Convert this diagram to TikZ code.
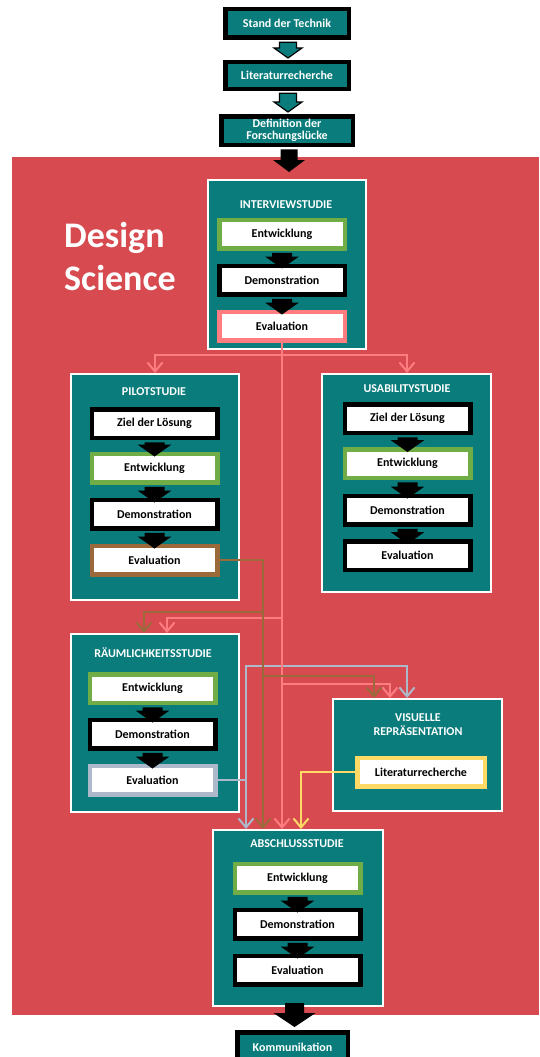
\documentclass[tikz,border=0pt]{standalone}
\usepackage{fontspec}
\setmainfont{Carlito}
\usetikzlibrary{calc,arrows.meta}

\definecolor{bgred}{HTML}{D64A50}
\definecolor{teal2}{HTML}{097C7B}
\definecolor{ggreen}{HTML}{70AD47}
\definecolor{pinkl}{HTML}{FF7C80}
\definecolor{brownl}{HTML}{9C6A3A}
\definecolor{grayl}{HTML}{ADB9CA}
\definecolor{yell}{HTML}{FFD966}

\tikzset{
  lab/.style={font=\fontsize{12}{12.5}\selectfont\bfseries},
  topbox/.style={lab, draw=black, line width=4.5pt, fill=teal2, text=white,
    inner sep=0pt, align=center},
  study/.style={draw=white, line width=2pt, fill=teal2, inner sep=0pt},
  title/.style={lab, text=white, align=center, inner sep=0pt},
  phase/.style={lab, draw=black, line width=4.5pt, fill=white,
    minimum width=125.5pt, minimum height=28.5pt, inner sep=0pt},
  flow/.style={line width=2pt, -{Straight Barb[length=9pt,width=15pt]}},
  % block arrow: half shaft width, half head width, head length
  blk/.style n args={3}{to path={let \p1=(\tikztostart), \p2=(\tikztotarget) in
    (\x1-#1,\y1) -- (\x1+#1,\y1) -- (\x1+#1,\y2+#3) -- (\x1+#2,\y2+#3)
    -- (\x1,\y2) -- (\x1-#2,\y2+#3) -- (\x1-#1,\y2+#3) -- cycle}},
  inarrow/.style={blk={10pt}{17pt}{12pt}, fill=black},
}

\begin{document}
\begin{tikzpicture}[x=1pt,y=-1pt]
\useasboundingbox (0,0) rectangle (539,1057);
\clip (0,0) rectangle (539,1057);

% background
\fill[bgred] (12,157) rectangle (539,1015);
\node[font=\fontsize{36}{43}\selectfont\bfseries, text=white, anchor=base west, inner sep=0pt] (dsa) at (64,247) {Design};
\node[font=\fontsize{36}{43}\selectfont\bfseries, text=white, anchor=base west, inner sep=0pt] (dsb) at (64,290) {Science};

% preliminary steps
\node[topbox, minimum width=123.5pt, minimum height=28.5pt] (st) at (287,23.5) {Stand der Technik};
\node[topbox, minimum width=123.5pt, minimum height=26.5pt] (lt) at (287,75.5) {Literaturrecherche};
\node[topbox, minimum width=131.5pt, minimum height=28.5pt] (df) at (287,130.5) {Definition der\\Forschungslücke};

% study frames
\node[study, minimum width=158pt, minimum height=169pt] (is) at (287,264.5) {};
\node[study, minimum width=168pt, minimum height=226pt] (ps) at (155,487) {};
\node[study, minimum width=169pt, minimum height=218pt] (us) at (406,483) {};
\node[study, minimum width=168pt, minimum height=178pt] (rs) at (155,723) {};
\node[study, minimum width=169pt, minimum height=112pt] (vr) at (417.5,755) {};
\node[study, minimum width=170pt, minimum height=176pt] (ab) at (298,918) {};
\node[topbox, minimum width=110.5pt, minimum height=29.5pt] (km) at (292.5,1047) {Kommunikation};

% titles
\node[title] (ist) at (286,205) {INTERVIEWSTUDIE};
\node[title] (pst) at (154,392) {PILOTSTUDIE};
\node[title] (ust) at (407,389) {USABILITYSTUDIE};
\node[title] (rst) at (153,653) {RÄUMLICHKEITSSTUDIE};
\node[title, font=\fontsize{12}{14.5}\selectfont\bfseries] (vrt) at (418,724.5) {VISUELLE\\REPRÄSENTATION};
\node[title] (abt) at (297,844) {ABSCHLUSSSTUDIE};

% Interviewstudie
\node[phase, draw=ggreen] (ient) at (282,234) {Entwicklung};
\node[phase] (idem) at (282,280) {Demonstration};
\node[phase, draw=pinkl] (ie) at (282,326) {Evaluation};

% Pilotstudie
\node[phase] (pz) at (154.5,423.5) {Ziel der Lösung};
\node[phase, draw=ggreen] (pent) at (154.5,468) {Entwicklung};
\node[phase] (pdem) at (154.5,514) {Demonstration};
\node[phase, draw=brownl] (pe) at (154.5,560) {Evaluation};

% Usabilitystudie
\node[phase] (uz) at (407.5,418.5) {Ziel der Lösung};
\node[phase, draw=ggreen] (uent) at (407.5,463.5) {Entwicklung};
\node[phase] (udem) at (407.5,510) {Demonstration};
\node[phase] (ue) at (407.5,555.5) {Evaluation};

% Raeumlichkeitsstudie
\node[phase, draw=ggreen] (rent) at (152.5,688.5) {Entwicklung};
\node[phase] (rdem) at (152.5,734) {Demonstration};
\node[phase, draw=grayl] (re) at (152.5,780) {Evaluation};

% Visuelle Repraesentation
\node[phase, draw=yell, minimum width=127.5pt] (vl) at (421,772) {Literaturrecherche};

% Abschlussstudie
\node[phase, draw=ggreen] (aent) at (297.5,878) {Entwicklung};
\node[phase] (adem) at (297.5,924) {Demonstration};
\node[phase] (ae) at (297.5,970) {Evaluation};

% block arrows between steps
\path[blk={8.5pt}{14pt}{10pt}, fill=teal2, draw=black, line width=1.2pt]
  ([xshift=1pt,yshift=-2.25pt]st.south) to ([xshift=1pt,yshift=2pt]lt.north);
\path[blk={8.5pt}{14pt}{10pt}, fill=teal2, draw=black, line width=1.2pt]
  ([xshift=1pt,yshift=-2.25pt]lt.south) to ([xshift=1pt,yshift=2pt]df.north);
\path[blk={8.5pt}{16pt}{12pt}, fill=black]
  ([xshift=2pt,yshift=-2.25pt]df.south) to ([xshift=2pt,yshift=7pt]is.north);

\foreach \a/\b in {ient/idem, idem/ie, pz/pent, pent/pdem, pdem/pe,
                   uz/uent, uent/udem, udem/ue, rent/rdem, rdem/re,
                   aent/adem, adem/ae}
  \path[inarrow] ([yshift=-2.25pt]\a.south) to ([yshift=-5pt]\b.north);

\path[blk={9.5pt}{21pt}{14pt}, fill=black]
  ([xshift=-3.5pt,yshift=4pt]ab.south) to ([xshift=-3.5pt,yshift=3pt]km.north);

% turning points of the connectors
\coordinate (gt) at (246,666);
\coordinate (gr) at (407,0);
\coordinate (pk) at (282,355);
\coordinate (pk2) at (282,618);
\coordinate (pk3) at (282,684);
\coordinate (pl) at (167,0);
\coordinate (pr) at (390,0);
\coordinate (bx) at (263,0);
\coordinate (b1) at (263,612);
\coordinate (b2) at (263,676);
\coordinate (bl) at (144,0);
\coordinate (br) at (374,0);
\coordinate (yx) at (301,0);

% Raeumlichkeitsstudie evaluation
\draw[flow, grayl] (re.east) -| (ab.north -| gt);
\draw[flow, grayl] (re.east -| gt) -- (gt) -| (vr.north -| gr);

% Interviewstudie evaluation
\draw[flow, pinkl] (ie.south) -- (ie.south |- ab.north);
\draw[flow, pinkl] (pk) -| (ps.north);
\draw[flow, pinkl] (pk) -| (us.north -| gr);
\draw[flow, pinkl] (pk2) -| (rs.north -| pl);
\draw[flow, pinkl] (pk3) -| (vr.north -| pr);

% Pilotstudie evaluation
\draw[flow, brownl] (pe.east) -| (ab.north -| bx);
\draw[flow, brownl] (b1) -| (rs.north -| bl);
\draw[flow, brownl] (b2) -| (vr.north -| br);

% Visuelle Repraesentation literature
\draw[flow, yell] (vl.west) -| (ab.north -| yx);
\end{tikzpicture}
\end{document}
